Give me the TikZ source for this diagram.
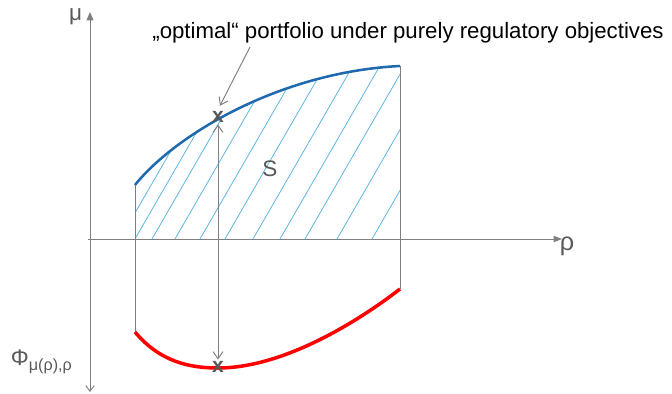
\documentclass[tikz,border=0pt]{standalone}
\usepackage{fontspec}
\setmainfont{Liberation Sans}
\usetikzlibrary{arrows.meta, positioning}
\definecolor{cgrey}{HTML}{808080}
\definecolor{ctext}{HTML}{595959}
\definecolor{cblue}{HTML}{1F6AAE}
\definecolor{chatch}{HTML}{5BB4DF}
\definecolor{cred}{HTML}{FF0000}
\tikzset{
  every picture/.style={line width=0.7pt},
  axis/.style={draw=cgrey, line width=0.7pt},
  arrow/.style={-{Straight Barb[length=5pt, width=7pt]}, draw=cgrey, line width=0.7pt},
  hatch/.style={draw=chatch, line width=0.55pt},
  note/.style={font=\fontsize{15.8}{19}\selectfont, inner sep=1pt},
  sym/.style={text=ctext, font=\fontsize{16}{19}\selectfont, inner sep=1pt},
  cross/.style={text=ctext, font=\bfseries\fontsize{15}{18}\selectfont, inner sep=1pt},
}

\begin{document}
\begin{tikzpicture}[x=0.025cm, y=-0.025cm]
  \useasboundingbox (0,0) rectangle (672,394);
  % axes
  \coordinate (ytop) at (90,12);
  \coordinate (ybot) at (90,392);
  \coordinate (xleft) at (88,239);
  \coordinate (xright) at (562,239);
  \draw[axis, {Straight Barb[length=4pt, width=6pt]}-{Triangle[length=6pt, width=5pt]}] (ybot) -- (ytop);
  \draw[axis, -{Triangle[length=6pt, width=4.5pt]}] (xleft) -- (xright);
  \node[sym, anchor=east] (mu) at (84,17) {μ};
  \node[sym, font=\fontsize{18}{20}\selectfont] (rho) at (567,246) {ρ};
  \node[sym, anchor=west] (phi) at (9,362) {Φ\raisebox{-0.45ex}{\fontsize{11.5}{13}\selectfont μ(ρ),ρ}};
  % region S
  \coordinate (s1) at (135,185);
  \coordinate (s2) at (400,66);
  \coordinate (r1) at (135,332);
  \coordinate (r2) at (400,289);
  \begin{scope}
    \clip (135,239) -- (s1) .. controls (175,135) and (280,72) .. (s2) -- (400,239) -- cycle;
    \foreach \x in {120,135,152,175,200,225,253,280,305,337,372}
      \draw[hatch] (\x,239) -- ++(120,-208);
  \end{scope}
  \draw[axis] (s1) -- (r1);
  \draw[axis] (s2) -- (r2);
  \draw[cblue, line width=1.8pt] (s1) .. controls (175,135) and (280,72) .. (s2);
  \draw[cred, line width=2.5pt] (r1) .. controls (160,362) and (190,368) .. (218,368)
    .. controls (280,368) and (352,326) .. (r2);
  \node[sym] (S) at (270,169) {S};
  % optimum markers
  \node[cross] (xtop) at (218,117) {x};
  \node[cross] (xbot) at (218,367) {x};
  \draw[arrow, {Straight Barb[length=5pt, width=7pt]}-{Straight Barb[length=5pt, width=7pt]}] (xtop) -- (xbot);
  \node[note] (lbl) at (408,33) {„optimal“ portfolio under purely regulatory objectives};
  \coordinate (ann) at (250,47);
  \draw[arrow, shorten >=3pt] (ann) -- (xtop.north);
\end{tikzpicture}
\end{document}
